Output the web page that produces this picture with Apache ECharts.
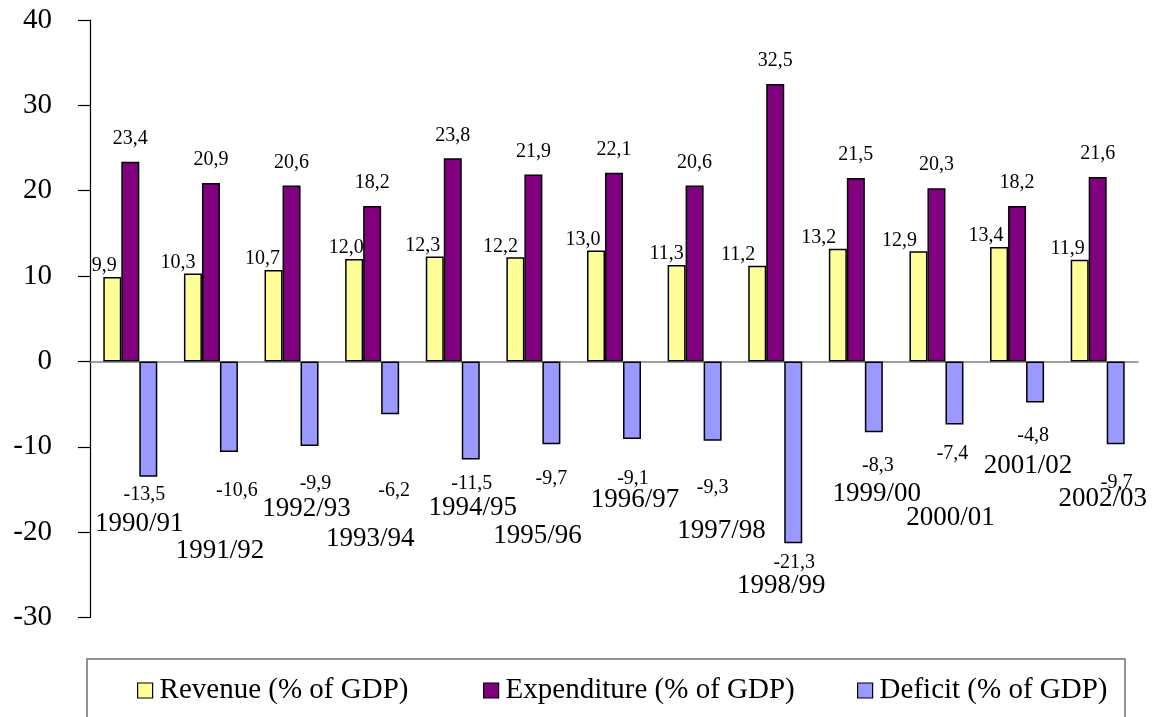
<!DOCTYPE html>
<html>
<head>
<meta charset="utf-8">
<script src="https://cdn.jsdelivr.net/npm/echarts@6/dist/echarts.min.js"></script>
<style>
  html, body { margin: 0; padding: 0; background: #fff; }
  #chart { width: 1154px; height: 717px; }
</style>
</head>
<body>
<div id="chart"></div>
<script>
  // data
  var years = ['1990/91', '1991/92', '1992/93', '1993/94', '1994/95', '1995/96', '1996/97',
    '1997/98', '1998/99', '1999/00', '2000/01', '2001/02', '2002/03']
  var revenue = [9.9, 10.3, 10.7, 12.0, 12.3, 12.2, 13.0, 11.3, 11.2, 13.2, 12.9, 13.4, 11.9]
  var expenditure = [23.4, 20.9, 20.6, 18.2, 23.8, 21.9, 22.1, 20.6, 32.5, 21.5, 20.3, 18.2, 21.6]
  var deficit = [-13.5, -10.6, -9.9, -6.2, -11.5, -9.7, -9.1, -9.3, -21.3, -8.3, -7.4, -4.8, -9.7]
  var seriesNames = ['Revenue (% of GDP)', 'Expenditure (% of GDP)', 'Deficit (% of GDP)']

  // hand placed labels (like the original excel chart), offsets in px
  var yearLabelDx = [9, 9, 15, -2, 20, 4, 21, 27, 6, 21, 14, 11, 5]
  var yearLabelDy = [162, 189, 147, 177, 146, 174, 138, 169, 224, 132, 156, 104, 137]
  var revLabelDx = [-8, -15, -11, -8, -12, -15, -13, -10, -19, -19, -19, -13, -12]
  var defLabelDx = [-4, 8, 6, 4, 1, 0, 1, 0, 1, 4, -2, -2, 1]
  var defLabelDy = [8, 29, 28, 66, 14, 25, 30, 37, 10, 23, 19, 23, 29]

  var font = "'Liberation Serif', 'Times New Roman', serif"
  var fmt = function (p) {
    return p.value.toFixed(1).replace('.', ',')
  }

  var chart = echarts.init(document.getElementById('chart'))
  chart.setOption({
    animation: false,
    grid: {
      left: 90,
      right: 16,
      top: 20,
      bottom: 99.5,
      containLabel: false,
      outerBoundsMode: 'none'
    },
    legend: [
      {left: 137, top: 676, data: [seriesNames[0]]},
      {left: 483, top: 676, data: [seriesNames[1]]},
      {left: 857, top: 676, data: [seriesNames[2]]}
    ].map(function (l) {
      return Object.assign(l, {
        padding: 0,
        icon: 'rect',
        itemWidth: 15,
        itemHeight: 15,
        itemStyle: {borderColor: '#000', borderWidth: 1.2},
        textStyle: {fontSize: 29, fontFamily: font, color: '#000', padding: [0, 0, 0, 2]}
      })
    }),
    graphic: [{
      type: 'rect',
      shape: {x: 87, y: 659, width: 1038, height: 80},
      style: {fill: 'none', stroke: '#707070', lineWidth: 1.5}
    }],
    xAxis: {
      type: 'category',
      data: years,
      axisLine: {onZero: true, lineStyle: {color: '#808080', width: 1.5}},
      axisTick: {length: 12, lineStyle: {color: '#555', width: 1.5}},
      axisLabel: {show: false}
    },
    yAxis: {
      type: 'value',
      min: -30,
      max: 40,
      interval: 10,
      axisLine: {show: true, lineStyle: {color: '#000', width: 1.2}},
      axisTick: {show: true, length: 12, lineStyle: {color: '#000', width: 1.2}},
      axisLabel: {margin: 38, fontSize: 29, fontFamily: font, color: '#000'},
      splitLine: {show: false}
    },
    series: [
      {
        name: seriesNames[0],
        type: 'bar',
        barWidth: 18,
        barGap: '0%',
        itemStyle: {color: '#FFFF99', borderColor: '#000', borderWidth: 1.5},
        label: {show: true, position: 'top', distance: 1, formatter: fmt,
          fontSize: 20, fontFamily: font, color: '#000'},
        data: revenue.map(function (v, i) {
          return {value: v, label: {offset: [revLabelDx[i], 0]}}
        })
      },
      {
        name: seriesNames[1],
        type: 'bar',
        barWidth: 18,
        barGap: '0%',
        itemStyle: {color: '#800080', borderColor: '#000', borderWidth: 1.5},
        label: {show: true, position: 'top', distance: 13, formatter: fmt,
          fontSize: 20, fontFamily: font, color: '#000'},
        data: expenditure
      },
      {
        name: seriesNames[2],
        type: 'bar',
        barWidth: 18,
        barGap: '0%',
        itemStyle: {color: '#9999FF', borderColor: '#000', borderWidth: 1.5},
        label: {show: true, position: 'bottom', distance: 0, formatter: fmt,
          fontSize: 20, fontFamily: font, color: '#000'},
        data: deficit.map(function (v, i) {
          return {value: v, label: {offset: [defLabelDx[i], defLabelDy[i]]}}
        })
      },
      {
        // category names, hung below the zero line at their excel positions
        type: 'custom',
        silent: true,
        z: 10,
        data: years.map(function (y, i) { return [i, 0] }),
        renderItem: function (params, api) {
          var i = params.dataIndex
          var p = api.coord([api.value(0), api.value(1)])
          return {
            type: 'text',
            x: p[0] + yearLabelDx[i],
            y: p[1] + yearLabelDy[i],
            style: {
              text: years[i],
              align: 'center',
              verticalAlign: 'middle',
              fontSize: 27,
              fontFamily: font,
              fill: '#000'
            }
          }
        }
      }
    ]
  })
</script>
</body>
</html>
